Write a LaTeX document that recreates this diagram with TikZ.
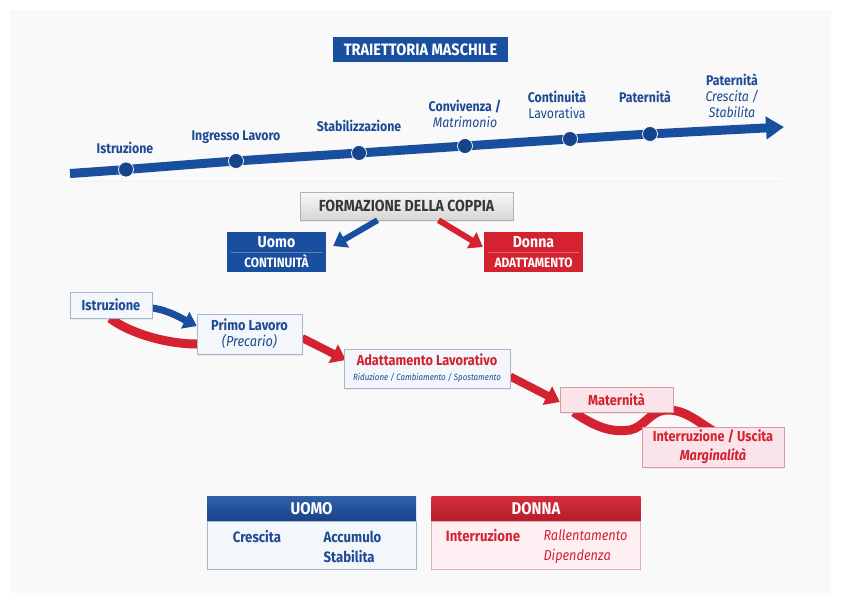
\documentclass[tikz,border=0pt]{standalone}
\usepackage{fontspec}
\setmainfont{Fira Sans}[FakeStretch=0.88]
\usetikzlibrary{positioning, arrows.meta, shadows}

\definecolor{tblue}{HTML}{1D4A93}
\definecolor{bandblue}{HTML}{1A4FA0}
\definecolor{dotblue}{HTML}{17438A}
\definecolor{tred}{HTML}{D42231}
\definecolor{boxline}{HTML}{A8B6CB}
\definecolor{lightfill}{HTML}{F3F6FA}
\definecolor{pinkline}{HTML}{D99AA5}
\definecolor{pinkfill}{HTML}{FBE4E9}
\definecolor{panel}{HTML}{F9F9F9}

\pgfdeclarelayer{bg}
\pgfsetlayers{bg,main}

\begin{document}
\begin{tikzpicture}
[
    x=1pt, y=-1pt, node distance=0pt,
    % Coordinates are read off the picture grid, origin at the top left.
    % Timeline dots are named T-0 ... T-5, their labels L-0 ... L-6
    % Path boxes are named P-1 ... P-5, table heads H-1, H-2, bodies B-1, B-2
]

%=================================== Start ===================================
\tikzstyle{tdot}      = [circle, fill=dotblue, draw=white, line width=0.7pt, minimum size=15pt, inner sep=0pt]
\tikzstyle{lbl}       = [text=tblue, align=center, font=\bfseries\fontsize{14}{16}\selectfont]
\tikzstyle{band}      = [line width=9pt, draw=bandblue]
\tikzstyle{rband}     = [line width=9pt, draw=tred]
\tikzstyle{bluearrow} = [line width=7pt, draw=bandblue, -{Triangle[length=13pt, width=18pt]}]
\tikzstyle{redarrow}  = [line width=8pt, draw=tred, -{Triangle[length=14pt, width=20pt]}]
\tikzstyle{pathbox}   = [draw=boxline, fill=lightfill, align=center, text=tblue, inner sep=0pt,
                         font=\bfseries\fontsize{14.5}{16}\selectfont,
                         drop shadow={opacity=.12, shadow xshift=1pt, shadow yshift=-1.5pt}]
\tikzstyle{pinkbox}   = [pathbox, draw=pinkline, fill=pinkfill, text=tred]
\tikzstyle{sexbox}    = [minimum width=99pt, minimum height=40pt, inner sep=0pt, text=white, align=center,
                         font=\bfseries\fontsize{16}{20}\selectfont]
\tikzstyle{tabhead}   = [minimum width=209pt, minimum height=25pt, inner sep=0pt, text=white,
                         font=\bfseries\fontsize{17}{18}\selectfont]
\tikzstyle{tabbody}   = [minimum width=209pt, minimum height=48pt, inner sep=0pt]
\tikzstyle{tabtext}   = [font=\bfseries\fontsize{15}{20}\selectfont, align=left]

\useasboundingbox (0,0) rectangle (841,603);
\begin{pgfonlayer}{bg}
    \fill[white] (0,0) rectangle (841,603);
    \fill[panel] (10,10) rectangle (831,593);
\end{pgfonlayer}

{
    % Title
    \node[fill=bandblue, text=white, minimum width=175pt, minimum height=25pt, inner sep=0pt,
          font=\bfseries\fontsize{16.5}{18}\selectfont] (title) at (420.5,49.5) {TRAIETTORIA MASCHILE};

    % Draw timeline dots
    \coordinate (T-s) at (70,173.5);
    \coordinate (T-e) at (784,127);
    \foreach \x / \y [count=\i from 0] in {126/169.5, 236/161, 359/153, 465/146, 570/139, 650/134}
        \node[tdot] (T-\i) at (\x,\y) {};
    % Draw timeline labels
    \foreach \x / \y / \t [count=\i from 0] in {125/148/Istruzione, 236/137/{Ingresso Lavoro},
                                                359/126/Stabilizzazione,
                                                465/114/{Convivenza /\\\mdseries\itshape Matrimonio},
                                                557/105/{Continuità\\\mdseries Lavorativa},
                                                645/97/Paternità,
                                                732/96/{Paternità\\\mdseries\itshape Crescita /\\\mdseries\itshape Stabilita}}
        \node[lbl] (L-\i) at (\x,\y) {\t};
    \begin{pgfonlayer}{bg}
        \draw[gray!12, line width=1pt] (70,181) -- (782,181);
        \draw[band, -{Triangle[length=18pt, width=22pt]}]
            plot[smooth, tension=.4] coordinates {(T-s) (T-0.center) (T-1.center) (T-2.center)
                                                   (T-3.center) (T-4.center) (T-5.center) (T-e)};
    \end{pgfonlayer}

    % Couple formation
    \node[draw=gray!60, top color=gray!6, bottom color=gray!32, text=black!78,
          minimum width=213pt, minimum height=28pt, inner sep=0pt,
          font=\bfseries\fontsize{16}{18}\selectfont,
          drop shadow={opacity=.15, shadow xshift=1pt, shadow yshift=-2pt}]
          (C) at (406.5,206) {FORMAZIONE DELLA COPPIA};
    \node[sexbox, fill=bandblue] (U) at (276.5,252)
          {Uomo\\{\fontsize{13.5}{14}\selectfont CONTINUITÀ}};
    \node[sexbox, fill=tred] (D) at (533.5,252)
          {Donna\\{\fontsize{13.5}{14}\selectfont ADATTAMENTO}};
    \draw[white, opacity=.3] ([xshift=4pt]U.west) -- ([xshift=-4pt]U.east);
    \draw[white, opacity=.3] ([xshift=4pt]D.west) -- ([xshift=-4pt]D.east);
    \draw[bluearrow, line width=6pt] ([xshift=-29pt]C.south) -- ([shift={(7,-6)}]U.east);
    \draw[redarrow, line width=6pt, -{Triangle[length=13pt, width=18pt]}]
          ([xshift=32pt]C.south) -- ([shift={(-1,-5)}]D.west);

    % Draw the path boxes
    \node[pathbox, minimum width=82pt, minimum height=26pt] (P-1) at (111,305) {Istruzione};
    \node[pathbox, minimum width=105pt, minimum height=40pt] (P-2) at (249.5,334)
          {Primo Lavoro\\\mdseries\itshape (Precario)};
    \node[pathbox, minimum width=166pt, minimum height=39pt] (P-3) at (427,368.5)
          {\textcolor{tred}{Adattamento Lavorativo}\\[-1pt]
           {\mdseries\itshape\fontsize{9}{11}\selectfont Riduzione / Cambiamento / Spostamento}};
    \node[pinkbox, minimum width=113pt, minimum height=25pt] (P-4) at (616.5,399.5) {Maternità};
    \node[pinkbox, minimum width=142pt, minimum height=40pt, font=\bfseries\fontsize{14.5}{19}\selectfont]
          (P-5) at (713,447) {Interruzione / Uscita\\\itshape Marginalità};

    % Connect path boxes (shifts in picture units, y grows downwards)
    \begin{pgfonlayer}{bg}
        \draw[rband] ([shift={(-1,0)}]P-1.south) .. controls +(18,14) and +(-32,0) .. ([shift={(0,10)}]P-2.west);
        \draw[bluearrow] ([shift={(0,3)}]P-1.east) .. controls +(16,2) and +(-14,-7) .. ([shift={(0,-8)}]P-2.west);
        \draw[redarrow] ([shift={(0,4)}]P-2.east) -- ([shift={(2,-8.5)}]P-3.west);
        \draw[redarrow] ([shift={(0,8)}]P-3.east) -- ([shift={(0,2.5)}]P-4.west);
        \draw[rband] ([shift={(14,0)}]P-4.south west) .. controls +(26,18) and +(-15,2) .. (630,430)
                     .. controls +(15,-3) and +(-18,0) .. (668,410)
                     .. controls +(18,0) and +(-14,-8) .. ([shift={(0,4)}]P-5.north);
    \end{pgfonlayer}

    % Draw the tables
    \node[tabhead, top color=bandblue!90!white, bottom color=dotblue] (H-1) at (311.5,508.5) {UOMO};
    \node[tabbody, draw=boxline, fill=lightfill, below=0pt of H-1] (B-1) {};
    \node[tabhead, top color=tred!95!white, bottom color=tred!85!black] (H-2) at (536,508.5) {DONNA};
    \node[tabbody, draw=pinkline!80, fill=pinkfill!60, below=0pt of H-2] (B-2) {};

    \node[tabtext, text=tblue] (U-1) at (257,537) {Crescita};
    \node[tabtext, text=tblue, anchor=west] (U-2) at (320,547) {Accumulo\\Stabilita};
    \node[tabtext, text=tred] (D-1) at (483,536) {Interruzione};
    \node[tabtext, text=tred, anchor=west, font=\itshape\fontsize{14.5}{20}\selectfont] (D-2) at (540,547)
          {Rallentamento\\Dipendenza};
}
%==================================== END ====================================

\end{tikzpicture}
\end{document}
